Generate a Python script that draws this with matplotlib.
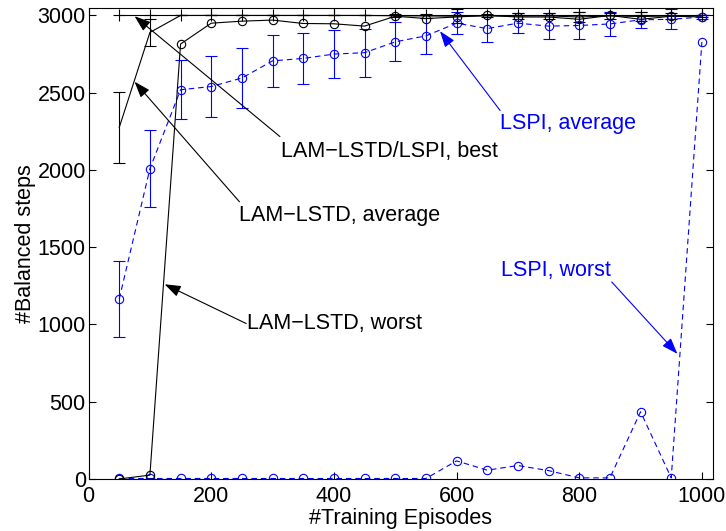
import numpy as np
import matplotlib
matplotlib.use("Agg")
import matplotlib.pyplot as plt

plt.rcParams['font.family'] = ['Liberation Sans', 'DejaVu Sans']

# training episodes
episodes = [50, 100, 150, 200, 250, 300, 350, 400, 450, 500,
            550, 600, 650, 700, 750, 800, 850, 900, 950, 1000]

# LAM-LSTD / LSPI best
best = [3000] * 20

# LAM-LSTD average (+ std)
lam_avg = [2275, 2890, 3000, 3000, 3000, 3000, 3000, 3000, 3000, 2998,
           2997, 2995, 2998, 2996, 2997, 2990, 2997, 2993, 2997, 2998]
lam_std = [228, 90, 0, 0, 0, 0, 0, 0, 0, 10,
           15, 45, 10, 20, 20, 35, 20, 30, 20, 5]

# LAM-LSTD worst
lam_worst = [0, 25, 2815, 2950, 2963, 2970, 2948, 2946, 2931, 2995,
             2980, 2990, 3000, 2990, 2990, 2975, 3000, 2975, 2995, 2990]

# LSPI average (+ std)
lspi_avg = [1165, 2008, 2519, 2540, 2595, 2706, 2722, 2750, 2759, 2829,
            2868, 2950, 2915, 2950, 2931, 2935, 2945, 2972, 2975, 2990]
lspi_std = [245, 248, 190, 197, 192, 166, 165, 158, 156, 126,
            115, 70, 90, 65, 85, 85, 80, 52, 65, 15]

# LSPI worst
lspi_worst = [3, 3, 3, 3, 3, 3, 3, 3, 3, 3,
              3, 117, 57, 87, 54, 7, 7, 435, 7, 2828]

blue = (0, 0, 1)
fs = 15.5

fig = plt.figure(figsize=(7.26, 5.31), dpi=100)
ax = fig.add_axes([0.122, 0.098, 0.860, 0.886])

# LSPI curves
ax.errorbar(episodes, lspi_avg, yerr=lspi_std, color=blue, lw=0.8,
            marker='o', ms=6, mfc='none', mec=blue, mew=0.8,
            capsize=4.3, elinewidth=0.8, capthick=0.8, dashes=(5, 3.5))
ax.plot(episodes, lspi_worst, color=blue, lw=0.8, dashes=(5, 3.5),
        marker='o', ms=6, mfc='none', mew=0.8)

# LAM-LSTD curves
ax.errorbar(episodes, lam_avg, yerr=lam_std, color='k', lw=0.8,
            capsize=4.3, elinewidth=0.8, capthick=0.8)
ax.plot(episodes, lam_worst, color='k', lw=0.8, marker='o', ms=6,
        mfc='none', mew=0.8)
ax.plot(episodes, best, color='k', lw=0.8, marker='+', ms=8, mew=0.8)

ax.set_xlim(0, 1018)
ax.set_ylim(0, 3045)
ax.set_xticks([0, 200, 400, 600, 800, 1000])
ax.set_yticks([0, 500, 1000, 1500, 2000, 2500, 3000])
ax.tick_params(direction='in', length=5, width=0.8, top=True, right=True,
               labelsize=fs, pad=2)
ax.tick_params(axis='x', pad=5)
for s in ax.spines.values():
    s.set_linewidth(0.8)

ax.set_xlabel('#Training Episodes', fontsize=fs, labelpad=0.5)
ax.set_ylabel('#Balanced steps', fontsize=fs, labelpad=1)

arrow_k = dict(arrowstyle='-|>,head_length=0.7,head_width=0.25', color='k',
               lw=0.8, shrinkA=0, shrinkB=0, mutation_scale=14)
arrow_b = dict(arrow_k, color=blue)

notes = [
    ('LAM\u2212LSTD/LSPI, best', (75, 2995), (312, 2216), (314, 2119), 'k', arrow_k),
    ('LAM\u2212LSTD, average', (75, 2571), (246, 1794), (246, 1708), 'k', arrow_k),
    ('LAM\u2212LSTD, worst', (124, 1260), (257, 1006), (258, 1006), 'k', arrow_k),
    ('LSPI, average', (573, 2898), (671, 2385), (671, 2299), blue, arrow_b),
    ('LSPI, worst', (960, 810), (853, 1275), (673, 1351), blue, arrow_b),
]
for label, head, tail, pos, c, ap in notes:
    ax.annotate('', xy=head, xytext=tail, arrowprops=ap)
    ax.text(pos[0], pos[1], label, color=c, fontsize=fs, ha='left', va='center')

fig.savefig('out.png', dpi=100)
